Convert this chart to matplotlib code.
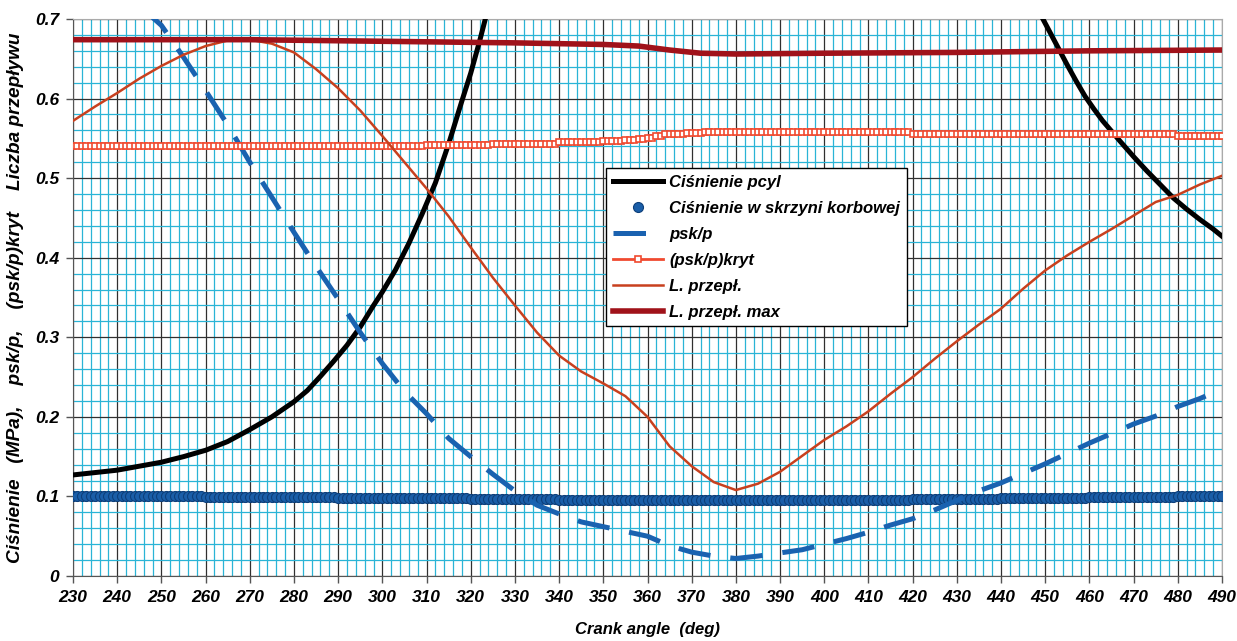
import numpy as np
import matplotlib
matplotlib.use('Agg')
import matplotlib.pyplot as plt
from matplotlib.ticker import MultipleLocator, FuncFormatter

plt.rcParams['font.family'] = ['Liberation Sans', 'DejaVu Sans']

# Ciśnienie pcyl (two visible branches, goes off the top in between)
pcyl_deg = [230, 240, 250, 255, 260, 265, 270, 275, 280, 283, 286, 289, 292, 295, 298,
            300, 303, 306, 309, 312, 315, 318, 320, 322, 324, 325,
            400,
            448, 449, 451, 453, 455, 457, 459, 461, 463, 465, 467, 470, 473, 476, 479,
            482, 485, 488, 490]
pcyl_val = [0.127, 0.133, 0.143, 0.150, 0.158, 0.169, 0.184, 0.200, 0.219, 0.233, 0.251, 0.270,
            0.290, 0.313, 0.340, 0.357, 0.385, 0.418, 0.455, 0.494, 0.543, 0.597, 0.632, 0.672,
            0.715, 0.740,
            np.nan,
            0.716, 0.705, 0.684, 0.663, 0.642, 0.622, 0.603, 0.587, 0.572, 0.559, 0.546, 0.527,
            0.509, 0.492, 0.475, 0.461, 0.448, 0.436, 0.427]

# one marker per degree, 230..490
deg_1 = np.arange(230, 491)

# Ciśnienie w skrzyni korbowej (run lengths)
psk_val = ([0.100] * 30 + [0.099] * 30 + [0.098] * 30 + [0.097] * 20 + [0.096] * 10 +
           [0.095] * 50 + [0.096] * 20 + [0.097] * 20 + [0.098] * 20 + [0.099] * 20 +
           [0.100] * 11)

# (psk/p)kryt
kryt_val = ([0.540] * 50 + [0.541] * 30 + [0.542] * 15 + [0.543] * 15 + [0.545] * 5 +
            [0.546] * 5 + [0.547] * 5 + [0.548] * 3 + [0.549] * 2 + [0.551] * 2 +
            [0.553] * 2 + [0.555] * 2 + [0.556] * 3 + [0.557] * 4 + [0.558] * 47 +
            [0.556] * 30 + [0.555] * 30 + [0.553] * 11)

# psk/p
ratio_deg = [246, 250, 255, 260, 265, 270, 275, 280, 285, 290, 295, 300, 305, 310, 315, 320,
             325, 330, 335, 340, 345, 350, 355, 360, 365, 370, 375, 380, 385, 390, 395, 400,
             405, 410, 415, 420, 425, 430, 435, 440, 445, 450, 455, 460, 465, 470, 475, 480,
             485, 490]
ratio_val = [0.712, 0.692, 0.652, 0.610, 0.567, 0.520, 0.476, 0.432, 0.389, 0.348, 0.306, 0.267,
             0.232, 0.204, 0.173, 0.150, 0.128, 0.107, 0.089, 0.078, 0.068, 0.062, 0.056, 0.050,
             0.038, 0.030, 0.025, 0.022, 0.025, 0.029, 0.033, 0.040, 0.047, 0.055, 0.064, 0.072,
             0.083, 0.095, 0.107, 0.117, 0.129, 0.141, 0.154, 0.167, 0.179, 0.191, 0.201, 0.213,
             0.223, 0.235]

# L. przepł.
flow_deg = list(range(230, 491, 5))
flow_val = [0.572, 0.590, 0.607, 0.625, 0.641, 0.655, 0.666, 0.673, 0.674, 0.669, 0.658, 0.637,
            0.613, 0.585, 0.553, 0.520, 0.487, 0.452, 0.413, 0.375, 0.340, 0.306, 0.277, 0.257,
            0.242, 0.226, 0.200, 0.163, 0.138, 0.118, 0.108, 0.116, 0.131, 0.151, 0.171, 0.188,
            0.207, 0.229, 0.250, 0.273, 0.295, 0.316, 0.336, 0.361, 0.384, 0.403, 0.420, 0.436,
            0.453, 0.470, 0.479, 0.492, 0.503]

# L. przepł. max
fmax_deg = [230, 260, 270, 300, 330, 350, 358, 365, 372, 380, 400, 430, 460, 490]
fmax_val = [0.674, 0.674, 0.674, 0.672, 0.670, 0.668, 0.666, 0.661, 0.657, 0.656, 0.657, 0.658,
            0.660, 0.661]

fig = plt.figure(figsize=(12.37, 6.41), dpi=100)
ax = fig.add_axes([73 / 1237, 1 - 576 / 641, 1149 / 1237, 557 / 641])

ax.plot(pcyl_deg, pcyl_val, color='black', lw=3.6, label='Ciśnienie pcyl', zorder=3)
ax.plot(deg_1, psk_val, ls='none', marker='o', ms=7.2, mfc='#1a5ea8', mec='#0d3f7a', mew=0.8,
        label='Ciśnienie w skrzyni korbowej', zorder=3)
ax.plot(ratio_deg, ratio_val, color='#1a62b0', lw=3.6, dashes=(6.5, 4), label='psk/p', zorder=3)
ax.plot(deg_1, kryt_val, color='#f04a30', lw=2, marker='s', ms=4.6, mfc='white', mec='#f04a30',
        mew=1.2, label='(psk/p)kryt', zorder=3)
ax.plot(flow_deg, flow_val, color='#c8401e', lw=1.8, label='L. przepł.', zorder=3)
ax.plot(fmax_deg, fmax_val, color='#a0121a', lw=4, label='L. przepł. max', zorder=3)

ax.set_xlim(230, 490)
ax.set_ylim(0, 0.7)
ax.xaxis.set_major_locator(MultipleLocator(10))
ax.xaxis.set_minor_locator(MultipleLocator(2))
ax.yaxis.set_major_locator(MultipleLocator(0.1))
ax.yaxis.set_minor_locator(MultipleLocator(0.02))
ax.yaxis.set_major_formatter(FuncFormatter(lambda v, p: '%g' % round(v, 2)))

ax.grid(which='minor', color='#2ab4d6', lw=0.9, zorder=0)
ax.grid(which='major', color='#303030', lw=0.9, zorder=1)
ax.set_axisbelow(True)

ax.tick_params(which='major', direction='out', length=5, width=1, color='#555555', pad=5)
ax.tick_params(which='minor', length=0)
for lab in ax.get_xticklabels() + ax.get_yticklabels():
    lab.set_fontsize(12.5)
    lab.set_fontweight('bold')
    lab.set_fontstyle('italic')

for side in ['top', 'right']:
    ax.spines[side].set_color('#aaaaaa')
for side in ['left', 'bottom']:
    ax.spines[side].set_color('#555555')

ax.set_xlabel('Crank angle  (deg)', fontsize=12, fontweight='bold', fontstyle='italic', labelpad=12)
ax.set_ylabel('Ciśnienie   (MPa),    psk/p,    (psk/p)kryt    Liczba przepływu', fontsize=13.7,
              fontweight='bold', fontstyle='italic', labelpad=8)

leg = ax.legend(loc='upper left', bbox_to_anchor=(0.464, 0.7325), borderaxespad=0,
                numpoints=1, handlelength=3.0, handletextpad=0.4, labelspacing=0.66,
                frameon=True, fancybox=False, framealpha=1, edgecolor='black',
                prop={'size': 12, 'weight': 'bold', 'style': 'italic'})
leg.get_frame().set_linewidth(1.0)
leg.set_zorder(10)

fig.savefig('out.png', dpi=100)
